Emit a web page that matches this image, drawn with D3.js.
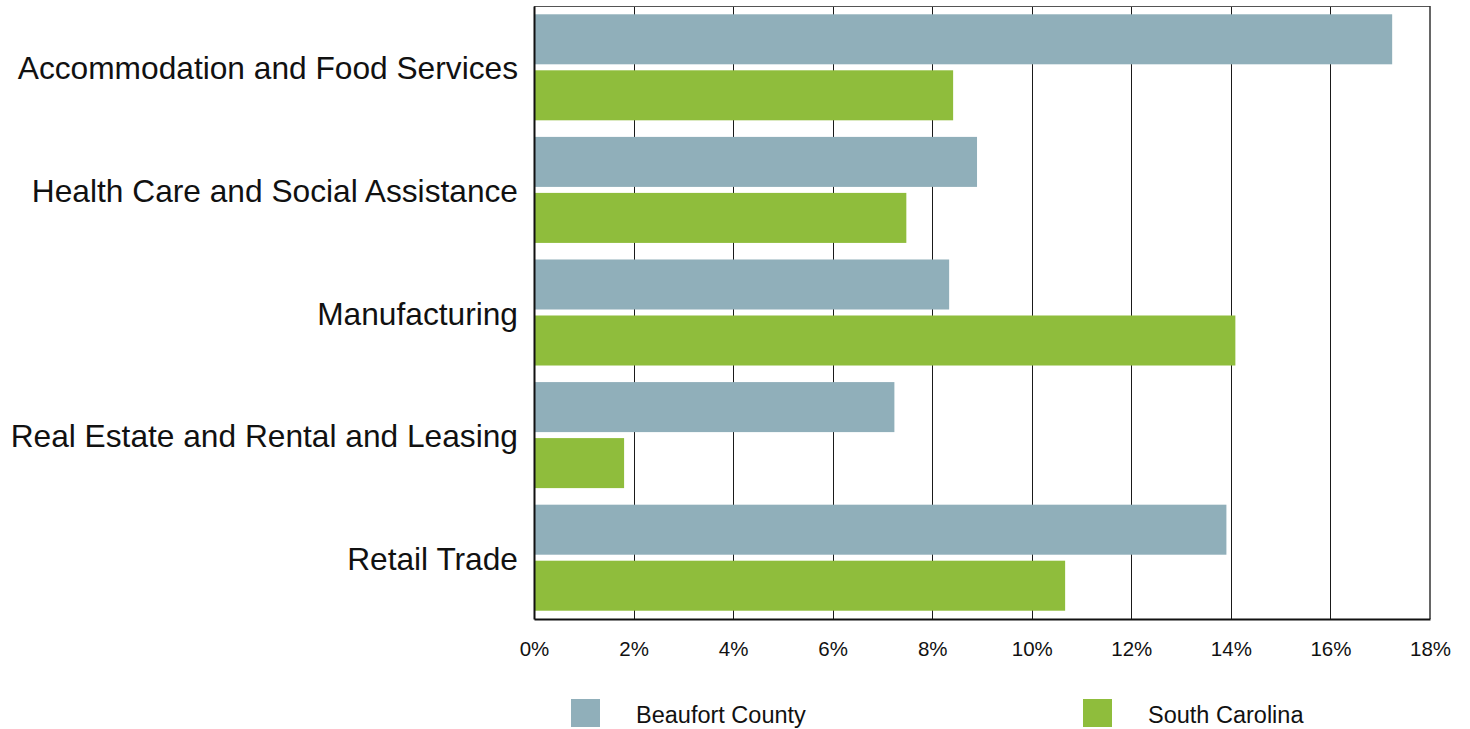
<!DOCTYPE html>
<html>
<head>
<meta charset="utf-8">
<script src="https://cdn.jsdelivr.net/npm/d3@7"></script>
<style>
  html, body { margin: 0; padding: 0; background: #fff; }
  svg { display: block; font-family: "Liberation Sans", Arial, sans-serif; }
</style>
</head>
<body>
<svg id="chart" width="1470" height="729"></svg>
<script>
const categories = [
  "Accommodation and Food Services",
  "Health Care and Social Assistance",
  "Manufacturing",
  "Real Estate and Rental and Leasing",
  "Retail Trade"
];
const seriesNames = ["Beaufort County", "South Carolina"];
const beaufortValues = [17.24, 8.9, 8.34, 7.24, 13.91];
const southCarolinaValues = [8.42, 7.48, 14.09, 1.81, 10.67];
const tickValues = [0, 2, 4, 6, 8, 10, 12, 14, 16, 18];
const seriesColors = ["#90AFBA", "#8FBD3C"];

const svg = d3.select("#chart");
const plotLeft = 534, plotRight = 1430, plotTop = 6, plotBottom = 619;

const x = d3.scaleLinear().domain([0, 18]).range([plotLeft, plotRight]);
const y0 = d3.scaleBand().domain(categories).range([plotTop, plotBottom]).padding(0);
const y1 = d3.scaleBand().domain(seriesNames).range([0, y0.bandwidth()])
  .paddingInner(0.107).paddingOuter(0.148);
const color = d3.scaleOrdinal().domain(seriesNames).range(seriesColors);

const rows = categories.map((c, i) => ({
  category: c,
  values: [
    { series: seriesNames[0], value: beaufortValues[i] },
    { series: seriesNames[1], value: southCarolinaValues[i] }
  ]
}));

// gridlines
svg.append("g")
  .selectAll("line")
  .data(tickValues.slice(1, -1))
  .join("line")
  .attr("x1", d => Math.round(x(d)) + 0.5).attr("x2", d => Math.round(x(d)) + 0.5)
  .attr("y1", plotTop).attr("y2", plotBottom)
  .attr("stroke", "#1a1a1a").attr("stroke-width", 1);

// top border
svg.append("line")
  .attr("x1", plotLeft).attr("x2", plotRight).attr("y1", plotTop + 0.5).attr("y2", plotTop + 0.5)
  .attr("stroke", "#555").attr("stroke-width", 1);
// right border
svg.append("line")
  .attr("x1", plotRight).attr("x2", plotRight).attr("y1", plotTop).attr("y2", plotBottom)
  .attr("stroke", "#333").attr("stroke-width", 1.5);

// bars
const groups = svg.append("g").selectAll("g")
  .data(rows).join("g")
  .attr("transform", d => `translate(0,${y0(d.category)})`);
groups.selectAll("rect")
  .data(d => d.values).join("rect")
  .attr("x", x(0))
  .attr("y", d => y1(d.series))
  .attr("width", d => x(d.value) - x(0))
  .attr("height", y1.bandwidth())
  .attr("fill", d => color(d.series));

// x axis
const xAxis = d3.axisBottom(x).tickValues(tickValues).tickFormat(d => d + "%").tickSize(0).tickPadding(22);
const gx = svg.append("g").attr("transform", `translate(0,${plotBottom})`).call(xAxis);
gx.select(".domain").attr("stroke", "#111").attr("stroke-width", 2);
gx.selectAll("text").attr("font-size", 20.5).attr("fill", "#111")
  .attr("font-family", "'Liberation Sans', Arial, sans-serif");

// y axis
const yAxis = d3.axisLeft(y0).tickSize(0).tickPadding(16);
const gy = svg.append("g").attr("transform", `translate(${plotLeft},0)`).call(yAxis);
gy.select(".domain").attr("stroke", "#111").attr("stroke-width", 2);
gy.selectAll("text").attr("font-size", 31.7).attr("fill", "#111").attr("dy", "0.38em")
  .attr("font-family", "'Liberation Sans', Arial, sans-serif");

// legend
const legendX = [571, 1083];
const legend = svg.append("g").selectAll("g")
  .data(seriesNames).join("g")
  .attr("transform", (d, i) => `translate(${legendX[i]},699)`);
legend.append("rect").attr("width", 29).attr("height", 28).attr("fill", d => color(d));
legend.append("text").attr("x", 65).attr("y", 24)
  .attr("font-size", 23.5).attr("fill", "#111").text(d => d);
</script>
</body>
</html>
